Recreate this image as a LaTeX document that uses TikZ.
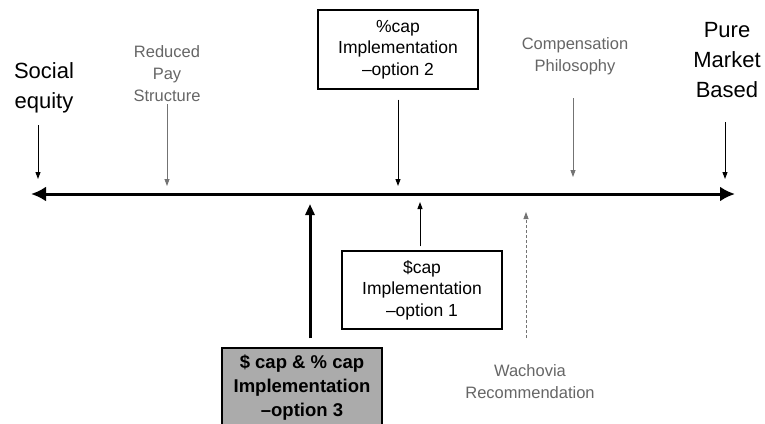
\documentclass[tikz,border=0pt]{standalone}
\usepackage{fontspec}
\setmainfont{Liberation Sans}
\usetikzlibrary{arrows.meta,calc}
\begin{document}
\begin{tikzpicture}[x=1pt,y=-1pt,
  biglabel/.style={align=center,inner sep=0pt,font=\fontsize{22}{30}\selectfont},
  smalllabel/.style={align=center,inner sep=0pt,text=black!60,font=\fontsize{16.5}{22}\selectfont},
  optbox/.style={draw=black,line width=1.2pt,align=center,minimum width=160pt,inner sep=0pt,font=\fontsize{17.5}{21.5}\selectfont},
  thinarrow/.style={draw=black,line width=1pt,-{Triangle[length=7pt,width=5pt]}},
  grayarrow/.style={draw=black!55,line width=0.8pt,-{Triangle[length=7pt,width=5pt]}},
  axisarrow/.style={line width=3pt,{Latex[length=15pt,width=15pt]}-{Latex[length=15pt,width=15pt]}},
  thickarrow/.style={line width=3pt,-{Triangle[length=11pt,width=9pt]}}
]
\path[use as bounding box,fill=white] (0,0) rectangle (765,423);

% axis
\coordinate (L) at (31,194);
\coordinate (R) at (735,194);
\draw[axisarrow] (L) -- (R);

% labels above
\node[biglabel] (social) at (44,88) {Social\\equity};
\node[smalllabel] (reduced) at (167,74) {Reduced\\Pay\\Structure};
\node[optbox,minimum height=79pt] (opt2) at (398,49.5) {\%cap\\Implementation\\–option 2};
\node[smalllabel] (comp) at (575,56) {Compensation\\Philosophy};
\node[biglabel] (pure) at (727,60) {Pure\\Market\\Based};

% labels below
\node[optbox,minimum height=78pt] (opt1) at (422,290) {\$cap\\Implementation\\–option 1};
\node[optbox,minimum height=80pt,fill=black!33,font=\bfseries\fontsize{18.5}{24}\selectfont] (opt3) at (302,388) {\$ cap \& \% cap\\Implementation\\–option 3};
\node[smalllabel] (wach) at (530,382) {Wachovia\\Recommendation};

% targets on axis
\coordinate (tSoc) at (38,179);
\coordinate (tRed) at (167,186);
\coordinate (tOp2) at (398,186);
\coordinate (tComp) at (573,177);
\coordinate (tPure) at (725,179);
\coordinate (tOp1) at (420,202);
\coordinate (tOp3) at (310,204);
\coordinate (tWach) at (526,212);

% arrows
\draw[thinarrow] (tSoc |- 0,125) -- (tSoc);
\draw[grayarrow] (reduced.south -| tRed) ++(0,2) -- (tRed);
\draw[thinarrow] (opt2.south -| tOp2) ++(0,10) -- (tOp2);
\draw[grayarrow] (tComp |- 0,98) -- (tComp);
\draw[thinarrow] (tPure |- 0,122) -- (tPure);
\draw[thinarrow] (opt1.north -| tOp1) ++(0,-4) -- (tOp1);
\draw[thickarrow] (opt3.north -| tOp3) ++(0,-9) -- (tOp3);
\draw[grayarrow,densely dashed] (tWach |- 0,338) -- (tWach);
\end{tikzpicture}
\end{document}
